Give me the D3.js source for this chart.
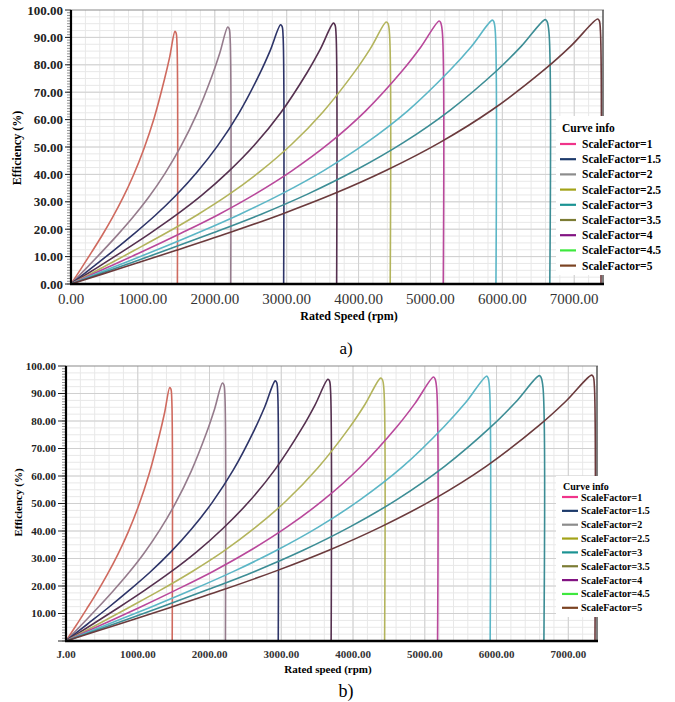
<!DOCTYPE html>
<html>
<head>
<meta charset="utf-8">
<script src="https://cdn.jsdelivr.net/npm/d3@7/dist/d3.min.js"></script>
<style>
  body { margin: 0; background: #fff; }
  svg { display: block; }
  svg text { font-family: "Liberation Serif", "Times New Roman", serif; }
</style>
</head>
<body>
<div id="chart"></div>
<script>
// legend entries and their swatch colours
const scaleFactors = ["1", "1.5", "2", "2.5", "3", "3.5", "4", "4.5", "5"];
const legendColors = ["#f0348a", "#1d3a6b", "#8c8c8c", "#a3a318", "#1b9393", "#7c7c34", "#821382", "#3ee83e", "#7b4322"];
// colours the curves actually show in the plot
const curveColors = ["#cf6a5f", "#957b8c", "#2d3468", "#55304f", "#b3b45c", "#b9489b", "#5bb6c6", "#3c8d95", "#6b3a3c"];

// efficiency (%) vs rated speed (rpm)
const curve1 = [[0,0],[145,5.8],[289,11.7],[434,17.8],[578,24.3],[723,31.5],[868,39.7],[1012,49.2],[1157,60.6],[1301,74.8],[1374,83.0],[1446,92.2],[1462,91.6],[1474,88],[1480,0]];
const curve2 = [[0,0],[218,5.9],[436,11.9],[654,18.1],[872,24.7],[1090,32.0],[1308,40.4],[1526,50.1],[1744,61.7],[1962,76.0],[2071,84.4],[2180,93.8],[2200,93.2],[2214,89.5],[2222,0]];
const curve3 = [[0,0],[292,6.0],[583,12.0],[875,18.3],[1166,24.9],[1458,32.3],[1749,40.7],[2041,50.5],[2332,62.2],[2624,76.7],[2769,85.1],[2915,94.6],[2936,94.0],[2950,90.5],[2958,0]];
const curve4 = [[0,0],[365,6.0],[730,12.1],[1095,18.4],[1460,25.1],[1825,32.5],[2190,41.0],[2555,50.8],[2920,62.6],[3285,77.2],[3468,85.7],[3650,95.2],[3672,94.6],[3687,91],[3695,0]];
const curve5 = [[0,0],[439,6.0],[877,12.2],[1316,18.5],[1754,25.2],[2193,32.6],[2631,41.1],[3070,51.0],[3508,62.9],[3947,77.5],[4166,86.0],[4385,95.6],[4410,95.0],[4430,91.5],[4440,0]];
const curve6 = [[0,0],[512,6.1],[1024,12.2],[1536,18.6],[2048,25.3],[2560,32.8],[3072,41.3],[3584,51.2],[4096,63.1],[4608,77.8],[4864,86.4],[5120,96.0],[5142,95.4],[5165,92],[5178,0]];
const curve7 = [[0,0],[586,6.1],[1172,12.2],[1758,18.6],[2344,25.4],[2930,32.9],[3516,41.4],[4102,51.4],[4688,63.3],[5274,78.1],[5567,86.6],[5860,96.3],[5882,95.7],[5902,92],[5911,0]];
const curve8 = [[0,0],[660,6.1],[1319,12.3],[1979,18.7],[2638,25.4],[3298,32.9],[3957,41.5],[4617,51.5],[5276,63.5],[5936,78.2],[6265,86.8],[6595,96.5],[6620,95.9],[6648,92],[6660,0]];
const curve9 = [[0,0],[733,6.1],[1465,12.3],[2198,18.7],[2930,25.5],[3663,33.0],[4395,41.6],[5128,51.6],[5860,63.6],[6593,78.4],[6959,87.0],[7325,96.7],[7348,96.1],[7364,92.5],[7372,0]];

const curves = [curve1, curve2, curve3, curve4, curve5, curve6, curve7, curve8, curve9];

const xTicks = [0, 1000, 2000, 3000, 4000, 5000, 6000, 7000];
const xTickLabelsA = ["0.00", "1000.00", "2000.00", "3000.00", "4000.00", "5000.00", "6000.00", "7000.00"];
const xTickLabelsB = ["J.00", "1000.00", "2000.00", "3000.00", "4000.00", "5000.00", "6000.00", "7000.00"];
const yTicksA = [0, 10, 20, 30, 40, 50, 60, 70, 80, 90, 100];
const yTicksB = [10, 20, 30, 40, 50, 60, 70, 80, 90, 100];

const width = 675, height = 702;
const serif = "'Liberation Serif', 'Times New Roman', serif";

const svg = d3.select("#chart").append("svg")
    .attr("width", width)
    .attr("height", height)
    .attr("font-family", serif);

/**
 * Draws one efficiency panel (grid, curves, axes, legend, caption).
 */
function drawPanel(p) {
    const g = svg.append("g");

    const x = d3.scaleLinear().domain([0, 7400]).range([p.left, p.right]);
    const y = d3.scaleLinear().domain([0, 100]).range([p.bottom, p.top]);

    // minor grid
    g.append("g").selectAll("line")
        .data(d3.range(200, 7400, 200))
        .enter().append("line")
        .attr("x1", d => x(d)).attr("x2", d => x(d))
        .attr("y1", p.top).attr("y2", p.bottom)
        .attr("stroke", "#e8e8e8").attr("stroke-width", 1);
    g.append("g").selectAll("line")
        .data(d3.range(2.5, 100, 2.5))
        .enter().append("line")
        .attr("x1", p.left).attr("x2", p.right)
        .attr("y1", d => y(d)).attr("y2", d => y(d))
        .attr("stroke", "#e8e8e8").attr("stroke-width", 1);

    // major grid
    g.append("g").selectAll("line")
        .data(xTicks.slice(1))
        .enter().append("line")
        .attr("x1", d => x(d)).attr("x2", d => x(d))
        .attr("y1", p.top).attr("y2", p.bottom)
        .attr("stroke", "#d0d0d0").attr("stroke-width", 1);
    g.append("g").selectAll("line")
        .data(d3.range(10, 100, 10))
        .enter().append("line")
        .attr("x1", p.left).attr("x2", p.right)
        .attr("y1", d => y(d)).attr("y2", d => y(d))
        .attr("stroke", "#d0d0d0").attr("stroke-width", 1);

    // frame top / right
    g.append("line")
        .attr("x1", p.left).attr("x2", p.right + 1)
        .attr("y1", p.top).attr("y2", p.top)
        .attr("stroke", "#8a8a8a").attr("stroke-width", 1.2);
    g.append("line")
        .attr("x1", p.right).attr("x2", p.right)
        .attr("y1", p.top).attr("y2", p.bottom)
        .attr("stroke", "#555").attr("stroke-width", 1.5);

    // curves
    const line = d3.line()
        .x(d => x(d[0]))
        .y(d => y(d[1]))
        .curve(d3.curveCatmullRom.alpha(0.5));

    g.append("g").selectAll("path")
        .data(curves)
        .enter().append("path")
        .attr("d", line)
        .attr("fill", "none")
        .attr("stroke", (d, i) => curveColors[i])
        .attr("stroke-width", 1.6)
        .attr("stroke-linejoin", "round");

    // y axis with minor ticks
    g.append("g").selectAll("line")
        .data(d3.range(0, 100, 1))
        .enter().append("line")
        .attr("x1", p.left - 4).attr("x2", p.left)
        .attr("y1", d => y(d)).attr("y2", d => y(d))
        .attr("stroke", "#777").attr("stroke-width", 0.8);
    g.append("g").selectAll("line")
        .data(d3.range(0, 101, 10))
        .enter().append("line")
        .attr("x1", p.left - p.tickLen).attr("x2", p.left)
        .attr("y1", d => y(d)).attr("y2", d => y(d))
        .attr("stroke", "#222").attr("stroke-width", 1);
    g.append("line")
        .attr("x1", p.left).attr("x2", p.left)
        .attr("y1", p.top).attr("y2", p.bottom)
        .attr("stroke", "#000").attr("stroke-width", 2.2);

    g.append("g").selectAll("text")
        .data(p.yTicks)
        .enter().append("text")
        .attr("x", p.left - p.tickLen - 2)
        .attr("y", d => y(d))
        .attr("dy", "0.35em")
        .attr("text-anchor", "end")
        .attr("font-family", serif)
        .attr("font-size", p.yFont + "px")
        .attr("font-weight", "bold")
        .attr("fill", "#222")
        .text(d => d3.format(".2f")(d));

    // x axis
    g.append("line")
        .attr("x1", p.left - 1).attr("x2", p.right + 1)
        .attr("y1", p.bottom).attr("y2", p.bottom)
        .attr("stroke", "#000").attr("stroke-width", 2.6);

    g.append("g").selectAll("text")
        .data(xTicks)
        .enter().append("text")
        .attr("x", d => x(d))
        .attr("y", p.xLabelY)
        .attr("text-anchor", "middle")
        .attr("font-family", serif)
        .attr("font-size", p.xFont + "px")
        .attr("font-weight", p.xWeight)
        .attr("fill", "#333")
        .text((d, i) => p.xLabels[i]);

    // axis titles
    g.append("text")
        .attr("x", p.xTitleX).attr("y", p.xTitleY)
        .attr("text-anchor", "middle")
        .attr("font-family", serif)
        .attr("font-size", p.titleFont + "px")
        .attr("font-weight", "bold")
        .text(p.xTitle);
    g.append("text")
        .attr("transform", `translate(${p.yTitleX},${(p.top + p.bottom) / 2 + p.yTitleShift})rotate(-90)`)
        .attr("text-anchor", "middle")
        .attr("font-family", serif)
        .attr("font-size", p.titleFont + "px")
        .attr("font-weight", "bold")
        .text("Efficiency (%)");

    // legend
    const lg = g.append("g");
    lg.append("rect")
        .attr("x", p.legX).attr("y", p.legY)
        .attr("width", width - p.legX).attr("height", p.legH)
        .attr("fill", "#fff");
    lg.append("text")
        .attr("x", p.legTitleX).attr("y", p.legTitleY)
        .attr("dy", "0.35em")
        .attr("font-family", serif)
        .attr("font-size", p.legFont + "px")
        .attr("font-weight", "bold")
        .text("Curve info");
    const item = lg.selectAll("g.item")
        .data(scaleFactors)
        .enter().append("g")
        .attr("class", "item")
        .attr("transform", (d, i) => `translate(0,${p.legFirst + i * p.legStep})`);
    item.append("line")
        .attr("x1", p.swatchX).attr("x2", p.swatchX + 16)
        .attr("stroke", (d, i) => legendColors[i])
        .attr("stroke-width", 2.2);
    item.append("text")
        .attr("x", p.legTextX)
        .attr("dy", "0.35em")
        .attr("font-family", serif)
        .attr("font-size", p.legFont + "px")
        .attr("font-weight", "bold")
        .text(d => "ScaleFactor=" + d);

    // caption
    g.append("text")
        .attr("x", 346).attr("y", p.capY)
        .attr("text-anchor", "middle")
        .attr("font-family", serif)
        .attr("font-size", p.capFont + "px")
        .text(p.caption);
}

drawPanel({
    left: 71, right: 603, top: 10, bottom: 284,
    tickLen: 6, yTicks: yTicksA, yFont: 13,
    xLabels: xTickLabelsA, xLabelY: 304, xFont: 15, xWeight: "normal",
    xTitle: "Rated Speed (rpm)", xTitleX: 349, xTitleY: 320, titleFont: 12,
    yTitleX: 21, yTitleShift: 1,
    legX: 556, legY: 116, legH: 159, legTitleX: 562, legTitleY: 128,
    legFirst: 144, legStep: 15.2, swatchX: 560, legTextX: 582, legFont: 11.5,
    caption: "a)", capY: 354, capFont: 17
});

drawPanel({
    left: 66, right: 597, top: 366, bottom: 641,
    tickLen: 8, yTicks: yTicksB, yFont: 11,
    xLabels: xTickLabelsB, xLabelY: 658, xFont: 11, xWeight: "bold",
    xTitle: "Rated speed (rpm)", xTitleX: 328, xTitleY: 673, titleFont: 11,
    yTitleX: 22, yTitleShift: -1,
    legX: 556, legY: 476, legH: 141, legTitleX: 563, legTitleY: 486,
    legFirst: 497, legStep: 13.85, swatchX: 562, legTextX: 581, legFont: 10,
    caption: "b)", capY: 697, capFont: 18
});
</script>
</body>
</html>
